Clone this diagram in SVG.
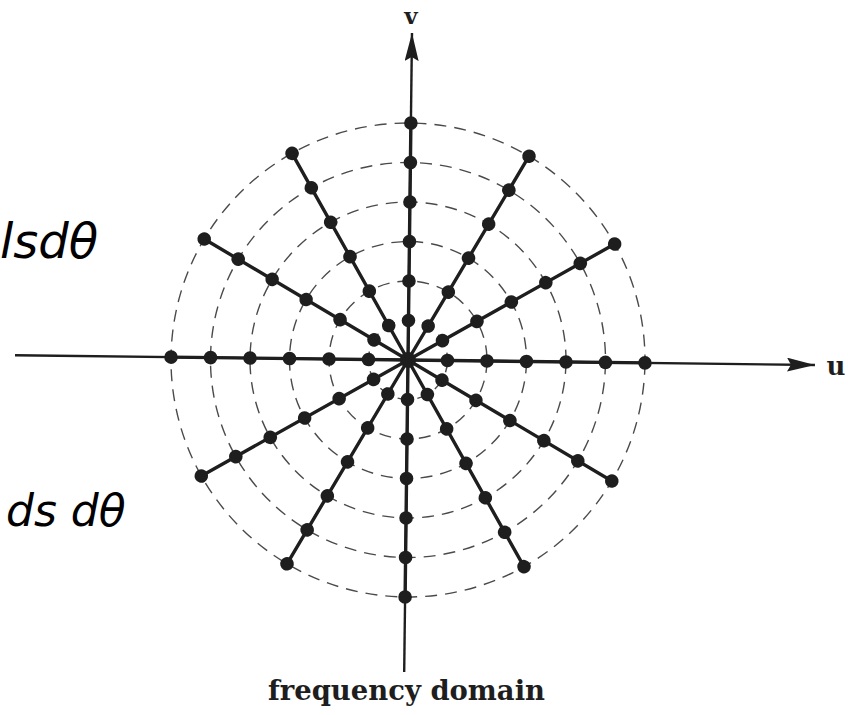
<svg xmlns="http://www.w3.org/2000/svg" xmlns:xlink="http://www.w3.org/1999/xlink" width="848" height="715" viewBox="0 0 848 715">
<style>
.ring{fill:none;stroke:#4a4a4a;stroke-width:1.4;stroke-dasharray:12 8}
.spoke{stroke:#1e1e1e;stroke-width:3.4;stroke-linecap:round}
.dot{fill:#1e1e1e}
.axis{stroke:#1e1e1e;stroke-width:2.4}
.lbl{font-family:"Century Schoolbook","DejaVu Serif","Liberation Serif",serif;font-weight:bold;fill:#1e1e1e}
.hand{font-family:"DejaVu Sans","Liberation Sans",sans-serif;font-style:italic;fill:#000}
</style>
<defs>
<g id="spokeDef">
<line class="spoke" x1="0" y1="0" x2="237" y2="0"/>
<circle class="dot" cx="39.5" cy="0" r="6.8"/>
<circle class="dot" cx="79" cy="0" r="6.8"/>
<circle class="dot" cx="118.5" cy="0" r="6.8"/>
<circle class="dot" cx="158" cy="0" r="6.8"/>
<circle class="dot" cx="197.5" cy="0" r="6.8"/>
<circle class="dot" cx="237" cy="0" r="6.8"/>
</g>
<marker id="arr" viewBox="0 0 28 14" refX="28" refY="7" markerWidth="28" markerHeight="14" markerUnits="userSpaceOnUse" orient="auto">
<path d="M0,0 L28,7 L0,14 L4,7 Z" fill="#1e1e1e"/>
</marker>
</defs>
<g transform="rotate(0.7 408 360)">
<g id="rings">
<circle class="ring" cx="408" cy="360" r="39.5"/>
<circle class="ring" cx="408" cy="360" r="79"/>
<circle class="ring" cx="408" cy="360" r="118.5"/>
<circle class="ring" cx="408" cy="360" r="158"/>
<circle class="ring" cx="408" cy="360" r="197.5"/>
<circle class="ring" cx="408" cy="360" r="237"/>
</g>
<g id="axes">
<line class="axis" x1="15" y1="360" x2="815" y2="360" marker-end="url(#arr)"/>
<line class="axis" x1="408" y1="672" x2="408" y2="33" marker-end="url(#arr)"/>
</g>
<g id="spokes" transform="translate(408 360)">
<use xlink:href="#spokeDef" transform="rotate(0)"/>
<use xlink:href="#spokeDef" transform="rotate(30)"/>
<use xlink:href="#spokeDef" transform="rotate(60)"/>
<use xlink:href="#spokeDef" transform="rotate(90)"/>
<use xlink:href="#spokeDef" transform="rotate(120)"/>
<use xlink:href="#spokeDef" transform="rotate(150)"/>
<use xlink:href="#spokeDef" transform="rotate(180)"/>
<use xlink:href="#spokeDef" transform="rotate(210)"/>
<use xlink:href="#spokeDef" transform="rotate(240)"/>
<use xlink:href="#spokeDef" transform="rotate(270)"/>
<use xlink:href="#spokeDef" transform="rotate(300)"/>
<use xlink:href="#spokeDef" transform="rotate(330)"/>
<circle class="dot" cx="0" cy="0" r="8"/>
</g>
</g>
<g id="labels">
<text class="lbl" x="411" y="24" font-size="23" text-anchor="middle">v</text>
<text class="lbl" x="836" y="375" font-size="26" text-anchor="middle">u</text>
<text class="lbl" x="268" y="700" font-size="28" textLength="277" lengthAdjust="spacingAndGlyphs">frequency domain</text>
</g>
<g id="handwriting">
<text class="hand" x="0" y="258" font-size="48" font-weight="300">lsdθ</text>
<text class="hand" x="6" y="526" font-size="44" font-weight="300">ds dθ</text>
</g>
</svg>
